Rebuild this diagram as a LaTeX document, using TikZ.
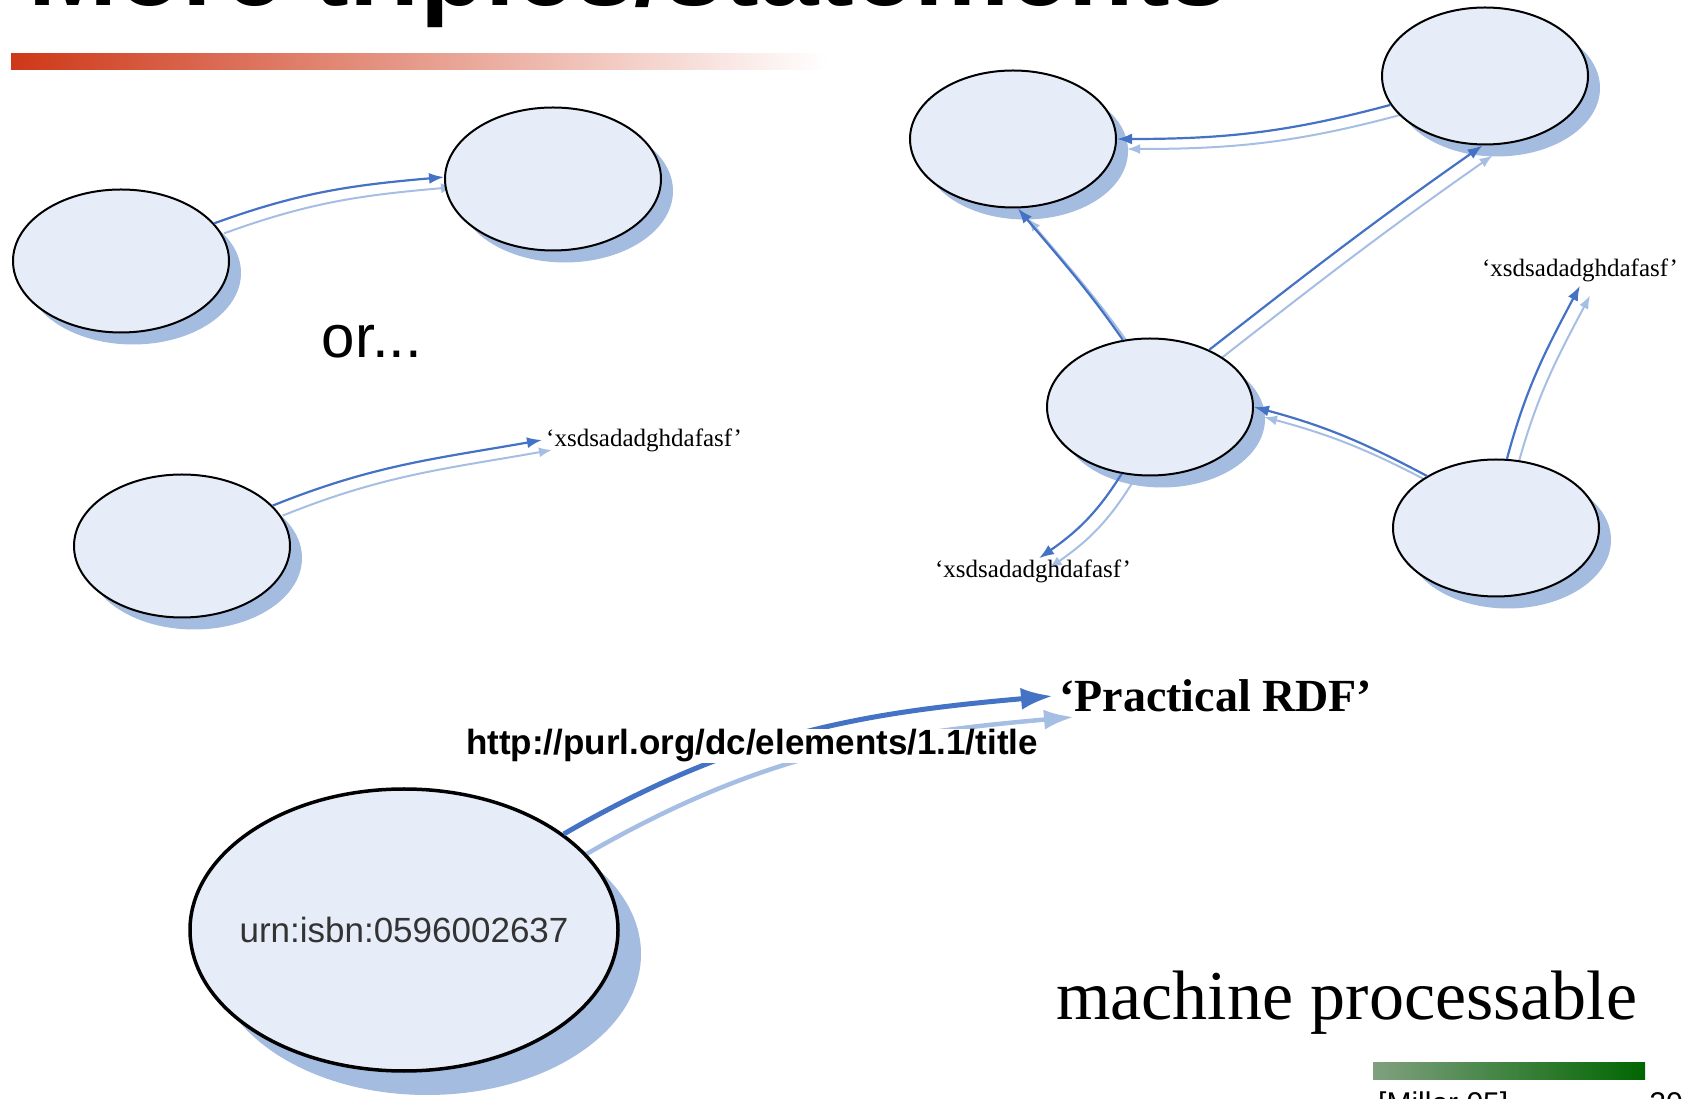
\documentclass[tikz,border=0pt]{standalone}
\usepackage{fontspec}
\setmainfont{Liberation Serif}
\setsansfont{Liberation Sans}
\usetikzlibrary{shapes.geometric,arrows.meta,shadows}

\definecolor{nodefill}{RGB}{230,237,248}
\definecolor{shadowblue}{RGB}{164,188,224}
\definecolor{linkblue}{RGB}{68,114,196}
\definecolor{linkshade}{RGB}{166,190,228}
\definecolor{barred}{RGB}{206,56,24}
\definecolor{bargreenA}{RGB}{128,160,128}
\definecolor{bargreenB}{RGB}{0,102,0}

\pgfdeclarelayer{back}
\pgfsetlayers{back,main}

\tikzset{
	res/.style={ellipse, draw, line width=2pt, fill=nodefill, inner sep=0pt,
		minimum width=216pt, minimum height=143pt,
		drop shadow={shadow xshift=12pt, shadow yshift=-12pt, fill=shadowblue, opacity=1}},
	smallres/.style={res, minimum width=206pt, minimum height=137pt},
	bigres/.style={ellipse, draw, line width=3.5pt, fill=nodefill, inner sep=0pt,
		minimum width=428pt, minimum height=282pt,
		drop shadow={shadow xshift=23pt, shadow yshift=-24pt, fill=shadowblue, opacity=1}},
	uri/.style={text=black!80, font=\sffamily\fontsize{35}{40}\selectfont},
	link/.style={draw=linkblue, line width=2.2pt, -{Latex[length=15pt,width=11pt]}},
	linkshade/.style={draw=linkshade, line width=2pt, -{Latex[length=13pt,width=10pt]},
		transform canvas={shift={(10pt,-10pt)}}},
	biglink/.style={draw=linkblue, line width=5pt, -{Latex[length=32pt,width=22pt]}},
	biglinkshade/.style={draw=linkshade, line width=4.5pt, -{Latex[length=30pt,width=20pt]},
		transform canvas={shift={(21pt,-21pt)}}},
	lit/.style={font=\fontsize{25}{30}\selectfont, inner sep=4pt},
}

\begin{document}
\begin{tikzpicture}[x=1pt, y=1pt]
	\useasboundingbox (0,0) rectangle (1684,1098);
	\clip (0,0) rectangle (1684,1098);
	
	% slide frame
	\node [anchor=base west, inner sep=0pt, font=\sffamily\bfseries\fontsize{107}{120}\selectfont] (heading) at (28,1092) {More triples/statements};
	\shade [left color=barred, right color=white] (11,1028) rectangle (827,1044);
	\shade [left color=bargreenA, right color=bargreenB] (1373,19) rectangle (1645,36);
	\node [anchor=base west, inner sep=0pt, font=\sffamily\fontsize{30}{36}\selectfont] (cite) at (1378,-15) {[Miller 05]};
	\node [anchor=base east, inner sep=0pt, font=\sffamily\fontsize{30}{36}\selectfont] (pageno) at (1683,-15) {20};
	
	% resources
	\node [res] (subjA) at (121,837) {};
	\node [res] (objB) at (553,919) {};
	\node [res] (subjC) at (182,552) {};
	\node [smallres] (nodeD) at (1013,959) {};
	\node [smallres] (nodeE) at (1485,1022) {};
	\node [smallres] (nodeF) at (1150,691) {};
	\node [smallres] (nodeG) at (1496,570) {};
	\node [bigres, label={[uri]center:urn:isbn:0596002637}] (book) at (404,168) {};
	
	% literals
	\node [lit, anchor=west] (litC) at (542,658) {‘xsdsadadghdafasf’};
	\node [lit] (litG) at (1580,828) {‘xsdsadadghdafasf’};
	\node [lit] (litF) at (1033,527) {‘xsdsadadghdafasf’};
	\node [anchor=west, inner sep=6pt, font=\bfseries\fontsize{46}{52}\selectfont] (titlelit) at (1053,402) {‘Practical RDF’};
	
	\node [font=\sffamily\fontsize{60}{70}\selectfont] (or) at (372,756) {or...};
	
	% arcs and their shades
	\begin{pgfonlayer}{back}
		\draw [linkshade] (subjA.22) to [out=20, in=185] (objB.179);
		\draw [linkshade] (subjC.24) to [out=22, in=190] (litC.west);
		\draw [linkshade] (nodeE.197) to [out=195, in=0] (nodeD.east);
		\draw [linkshade] (nodeF.112) to [out=125, in=-50] (nodeD.274);
		\draw [linkshade] (nodeF.44) to [out=38, in=215] (nodeE.268);
		\draw [linkshade] (nodeG.143) to [out=152, in=-15] (nodeF.east);
		\draw [linkshade] (nodeG.81) to [out=75, in=-118] (litG.south);
		\draw [linkshade] (nodeF.247) to [out=238, in=35] ([xshift=6pt,yshift=-3pt]litF.north);
		\draw [biglinkshade] (book.31) to [out=30, in=185] (titlelit.west);
	\end{pgfonlayer}
	
	\draw [link] (subjA.22) to [out=20, in=185] (objB.179);
	\draw [link] (subjC.24) to [out=22, in=190] (litC.west);
	\draw [link] (nodeE.197) to [out=195, in=0] (nodeD.east);
	\draw [link] (nodeF.112) to [out=125, in=-50] (nodeD.274);
	\draw [link] (nodeF.44) to [out=38, in=215] (nodeE.268);
	\draw [link] (nodeG.143) to [out=152, in=-15] (nodeF.east);
	\draw [link] (nodeG.81) to [out=75, in=-118] (litG.south);
	\draw [link] (nodeF.247) to [out=238, in=35] ([xshift=6pt,yshift=-3pt]litF.north);
	\draw [biglink] (book.31) to [out=30, in=185] (titlelit.west);
	
	\node [fill=white, inner sep=1pt, font=\sffamily\bfseries\fontsize{35}{40}\selectfont] (predicate) at (752,352) {http://purl.org/dc/elements/1.1/title};
	
	\node [anchor=base west, inner sep=0pt, font=\fontsize{70}{80}\selectfont] (tagline) at (1056,78) {machine processable};
	
\end{tikzpicture}
\end{document}
